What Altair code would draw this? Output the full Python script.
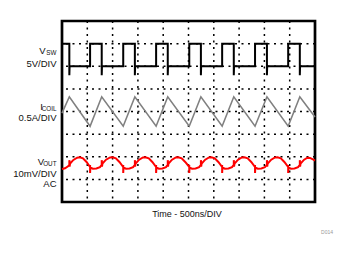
import altair as alt
import pandas as pd

# ---- data (x in divisions 0-10, y in divisions 0-8) ----
grid_x = [1, 2, 3, 4, 5, 6, 7, 8, 9]
grid_y = [1, 2, 3, 4, 5, 6, 7]

# switch node: falling / rising edge times (div)
vsw_fall = [0.29, 1.57, 2.88, 4.18, 5.49, 6.79, 8.10, 9.40]
vsw_rise = [1.11, 2.42, 3.72, 5.03, 6.33, 7.63, 8.94]
vsw_high = 7.0
vsw_low = 6.0
vsw_spike = 5.6

# coil current triangle (div)
coil_x = [0.00, 0.29, 1.11, 1.57, 2.42, 2.88, 3.72, 4.18, 5.03, 5.49, 6.33, 6.79,
          7.63, 8.10, 8.94, 9.40, 10.00]
coil_y = [3.93, 4.65, 3.35, 4.65, 3.35, 4.65, 3.35, 4.65, 3.35, 4.65, 3.35, 4.65,
          3.35, 4.65, 3.35, 4.65, 3.76]

# output ripple (div)
vout_x = [0.00, 0.12, 0.24,
          0.29, 0.29, 0.30, 0.32, 0.45, 0.60, 0.70, 0.83, 0.97, 1.09,
          1.11, 1.11, 1.12, 1.22, 1.36, 1.50,
          1.57, 1.57, 1.58, 1.60, 1.74, 1.90, 2.00, 2.13, 2.27, 2.40,
          2.42, 2.42, 2.43, 2.53, 2.67, 2.81,
          2.88, 2.88, 2.89, 2.91, 3.05, 3.20, 3.30, 3.43, 3.57, 3.70,
          3.72, 3.72, 3.73, 3.83, 3.97, 4.11,
          4.18, 4.18, 4.19, 4.21, 4.35, 4.50, 4.60, 4.73, 4.87, 5.01,
          5.03, 5.03, 5.04, 5.14, 5.28, 5.42,
          5.49, 5.49, 5.50, 5.52, 5.66, 5.81, 5.91, 6.04, 6.18, 6.31,
          6.33, 6.33, 6.34, 6.44, 6.58, 6.72,
          6.79, 6.79, 6.80, 6.82, 6.96, 7.11, 7.21, 7.34, 7.48, 7.61,
          7.63, 7.63, 7.64, 7.74, 7.88, 8.02,
          8.10, 8.10, 8.11, 8.13, 8.27, 8.42, 8.52, 8.65, 8.79, 8.92,
          8.94, 8.94, 8.95, 9.05, 9.19, 9.33,
          9.40, 9.40, 9.41, 9.43, 9.57, 9.70, 9.80, 9.92, 10.00]
vout_y = [1.46, 1.49, 1.58,
          1.64, 1.85, 1.56, 1.70, 1.86, 1.96, 1.98, 1.93, 1.77, 1.58,
          1.63, 1.28, 1.52, 1.47, 1.48, 1.54,
          1.64, 1.85, 1.56, 1.70, 1.87, 1.97, 1.98, 1.93, 1.77, 1.58,
          1.63, 1.28, 1.52, 1.47, 1.48, 1.54,
          1.64, 1.85, 1.56, 1.70, 1.87, 1.97, 1.98, 1.93, 1.77, 1.58,
          1.63, 1.28, 1.52, 1.47, 1.48, 1.54,
          1.64, 1.85, 1.56, 1.70, 1.87, 1.97, 1.98, 1.93, 1.77, 1.58,
          1.63, 1.28, 1.52, 1.47, 1.48, 1.54,
          1.64, 1.85, 1.56, 1.70, 1.87, 1.97, 1.98, 1.93, 1.77, 1.58,
          1.63, 1.28, 1.52, 1.47, 1.48, 1.54,
          1.64, 1.85, 1.56, 1.70, 1.87, 1.97, 1.98, 1.93, 1.77, 1.58,
          1.63, 1.28, 1.52, 1.47, 1.48, 1.54,
          1.64, 1.85, 1.56, 1.70, 1.87, 1.97, 1.98, 1.93, 1.77, 1.58,
          1.63, 1.28, 1.52, 1.47, 1.48, 1.54,
          1.64, 1.85, 1.56, 1.70, 1.87, 1.96, 1.95, 1.88, 1.83]

# ---- build tables ----
vx, vy = [0.0], [vsw_high]
for i, f in enumerate(vsw_fall):
    vx += [f, f, f + 0.01]
    vy += [vsw_high, vsw_spike, vsw_low]
    if i < len(vsw_rise):
        r = vsw_rise[i]
        vx += [r, r]
        vy += [vsw_low, vsw_high]
vx.append(10.0)
vy.append(vsw_low)

vsw_df = pd.DataFrame({"t": vx, "v": vy, "i": range(len(vx))})
coil_df = pd.DataFrame({"t": coil_x, "v": coil_y, "i": range(len(coil_x))})
vout_df = pd.DataFrame({"t": vout_x, "v": vout_y, "i": range(len(vout_x))})
gx_df = pd.DataFrame({"g": grid_x})
gy_df = pd.DataFrame({"g": grid_y})

xs = alt.Scale(domain=[0, 10], nice=False, zero=False)
ys = alt.Scale(domain=[0, 8], nice=False, zero=False)
X = lambda f: alt.X(f, type="quantitative", scale=xs, axis=None)
Y = lambda f: alt.Y(f, type="quantitative", scale=ys, axis=None)

dash = [2, 4.5]
vgrid = alt.Chart(gx_df).mark_rule(color="black", strokeWidth=1.5, strokeDash=dash).encode(x=X("g"))
hgrid = alt.Chart(gy_df).mark_rule(color="black", strokeWidth=1.5, strokeDash=dash).encode(y=Y("g"))

FONT = "Liberation Sans"
coil = alt.Chart(coil_df).mark_line(color="#808080", strokeWidth=1.6).encode(
    x=X("t"), y=Y("v"), order="i:Q")
vout = alt.Chart(vout_df).mark_line(color="#ff0000", strokeWidth=2).encode(
    x=X("t"), y=Y("v"), order="i:Q")
vsw = alt.Chart(vsw_df).mark_line(color="black", strokeWidth=2, strokeJoin="miter").encode(
    x=X("t"), y=Y("v"), order="i:Q")

def txt(s, x, y, size=9.5, align="right", color="#111111"):
    return alt.Chart(pd.DataFrame({"s": [s]})).mark_text(
        font=FONT, fontSize=size, align=align, baseline="alphabetic", color=color
    ).encode(text="s:N", x=alt.value(x), y=alt.value(y))

labels = [
    txt("V", -16.5, 33.3), txt("SW", -5.5, 34, size=6.3),
    txt("5V/DIV", -5.5, 46.3),
    txt("I", -19, 89), txt("COIL", -5.5, 89.5, size=6.3),
    txt("0.5A/DIV", -5.5, 100.3),
    txt("V", -18, 144), txt("OUT", -5.5, 144.5, size=6.3),
    txt("10mV/DIV", -5.5, 155.7),
    txt("AC", -5.5, 166.3),
    txt("Time - 500ns/DIV", 125, 195.7, size=9, align="center"),
    txt("D014", 271, 213.3, size=5, color="#999999"),
]

chart = alt.layer(vgrid, hgrid, coil, vout, vsw, *labels).properties(
    width=253, height=181,
    autosize=alt.AutoSizeParams(type="none"),
    padding={"left": 62, "top": 21, "right": 30, "bottom": 52},
    background="white",
).configure_view(stroke="black", strokeWidth=2.7)

chart.save("out.html", embed_options={"renderer": "svg", "actions": False})
